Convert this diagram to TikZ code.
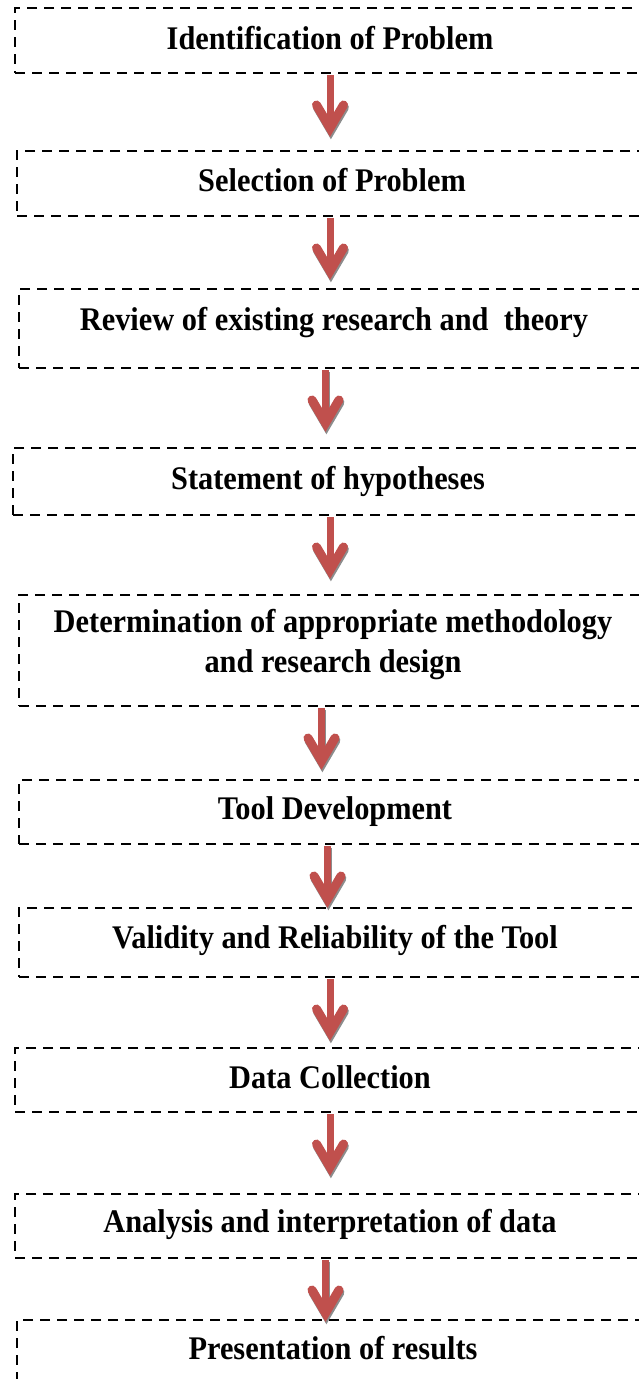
\documentclass[tikz,border=0pt]{standalone}
\usepackage{fontspec}
\setmainfont{Liberation Serif}
\newfontfamily\stepfont{Liberation Serif}[FakeStretch=0.92]
\begin{document}
\begin{tikzpicture}[x=1pt,y=-1pt,
  stepbox/.style={draw=black, line width=2.6pt, dash pattern=on 10pt off 7pt,
    rectangle, inner sep=0pt, outer sep=0pt},
  steptext/.style={font=\stepfont\bfseries\fontsize{33}{40}\selectfont, inner sep=0pt,
    align=center, text=black},
  arrbody/.style={draw=arrred, line width=7pt},
  arrhead/.style={draw=arrred, line width=9pt, line cap=round, line join=miter},
  arrshade/.style={draw=arrgray, line width=9pt, line cap=round, line join=miter},
  arrshadebody/.style={draw=arrgray, line width=7pt}]
\definecolor{arrred}{HTML}{C0504D}
\definecolor{arrgray}{gray}{0.55}
\useasboundingbox (0,0) rectangle (639,1379);
\clip (0,0) rectangle (639,1379);

% red block arrow with soft grey drop shadow, hanging below a box
\newcommand\flowarrow[2]{%
  \begin{scope}[shift={([xshift=#2]#1.south)}]
    \begin{scope}[shift={(0.9,2.4)}]
      \draw[arrshadebody] (0,2) -- (0,50);
      \draw[arrshade] (-13.5,32) -- (0,55) -- (13.5,32);
    \end{scope}
    \draw[arrbody] (0,2) -- (0,50);
    \draw[arrhead] (-13.5,32) -- (0,55) -- (13.5,32);
  \end{scope}}

% dashed step boxes (right edges run past the frame)
\node[stepbox, minimum width=633, minimum height=65]  (b1)  at (331.5,40.5) {};
\node[stepbox, minimum width=631, minimum height=65]  (b2)  at (332.5,183.5) {};
\node[stepbox, minimum width=629, minimum height=79]  (b3)  at (333.5,328.5) {};
\node[stepbox, minimum width=635, minimum height=67]  (b4)  at (330.5,481.5) {};
\node[stepbox, minimum width=629, minimum height=111] (b5)  at (333.5,650.5) {};
\node[stepbox, minimum width=629, minimum height=64]  (b6)  at (333.5,812) {};
\node[stepbox, minimum width=629, minimum height=69]  (b7)  at (333.5,942.5) {};
\node[stepbox, minimum width=633, minimum height=64]  (b8)  at (331.5,1080) {};
\node[stepbox, minimum width=633, minimum height=64]  (b9)  at (331.5,1226) {};
\node[stepbox, minimum width=631, minimum height=80]  (b10) at (332.5,1360) {};

% step labels
\node[steptext, anchor=base] (t1)  at (330,49)   {Identification of Problem};
\node[steptext, anchor=base] (t2)  at (332,191)  {Selection of Problem};
\node[steptext, anchor=base] (t3)  at (334,330)  {Review of existing research and \ theory};
\node[steptext, anchor=base] (t4)  at (328,489)  {Statement of hypotheses};
\node[steptext, anchor=center] (t5) at (333,645) {Determination of appropriate methodology\\and research design};
\node[steptext, anchor=base] (t6)  at (335,819)  {Tool Development};
\node[steptext, anchor=base] (t7)  at (335,948)  {Validity and Reliability of the Tool};
\node[steptext, anchor=base] (t8)  at (330,1088) {Data Collection};
\node[steptext, anchor=base] (t9)  at (330,1232) {Analysis and interpretation of data};
\node[steptext, anchor=base] (t10) at (333,1359) {Presentation of results};

% connectors
\flowarrow{b1}{-1.5pt}
\flowarrow{b2}{-2.5pt}
\flowarrow{b3}{-8pt}
\flowarrow{b4}{-0.5pt}
\flowarrow{b5}{-12pt}
\flowarrow{b6}{-6pt}
\flowarrow{b7}{-3.5pt}
\flowarrow{b8}{-1.5pt}
\flowarrow{b9}{-6pt}
\end{tikzpicture}
\end{document}
